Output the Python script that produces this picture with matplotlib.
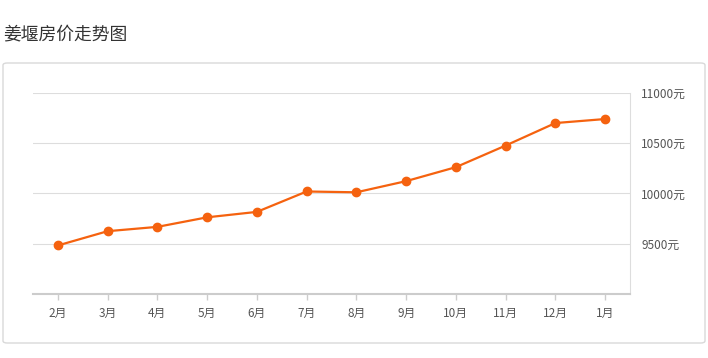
import matplotlib
matplotlib.use("Agg")
import matplotlib.pyplot as plt
from matplotlib.patches import FancyBboxPatch

plt.rcParams['font.family'] = ['Noto Sans CJK SC', 'DejaVu Sans']

title = "姜堰房价走势图"
months = ["2月", "3月", "4月", "5月", "6月", "7月", "8月", "9月", "10月", "11月", "12月", "1月"]
prices = [9483, 9625, 9668, 9763, 9817, 10020, 10012, 10123, 10262, 10477, 10701, 10741]
yticks = [9500, 10000, 10500, 11000]
ytick_labels = ["9500元", "10000元", "10500元", "11000元"]

W, H = 708, 358
fig = plt.figure(figsize=(W / 100, H / 100), dpi=100)
fig.patch.set_facecolor("white")

# card border
card = FancyBboxPatch((3 / W, 1 - 343 / H), (705 - 3) / W, (343 - 63) / H,
                      boxstyle="round,pad=0,rounding_size=0.006",
                      transform=fig.transFigure, facecolor="white",
                      edgecolor="#d9d9d9", linewidth=1.0, zorder=-1)
fig.patches.append(card)

fig.text(3 / W, 1 - 34 / H, title, fontsize=12.8, color="#333333", va="center", ha="left")

ax = fig.add_axes([33 / W, 1 - 294 / H, (630 - 33) / W, (294 - 93) / H])
ax.set_zorder(2)
ax.patch.set_alpha(0)
x = list(range(len(months)))
ax.plot(x, prices, color="#f5620f", linewidth=1.6, marker="o", markersize=6,
        markerfacecolor="#f5620f", markeredgecolor="#f5620f", zorder=3)

ax.set_xlim(-0.5, len(months) - 0.5)
ax.set_ylim(9000, 11000)
ax.set_xticks(x)
ax.set_xticklabels(months, fontsize=8.5, color="#555555")
ax.yaxis.tick_right()
ax.set_yticks(yticks)
ax.set_yticklabels(ytick_labels, fontsize=8.5, color="#555555")
ax.tick_params(axis="y", length=0, pad=8)
ax.tick_params(axis="x", length=4, color="#cccccc", width=1, pad=5)
for t in ax.get_yticklabels():
    t.set_horizontalalignment("left")

ax.grid(axis="y", color="#dddddd", linewidth=0.8)
ax.set_axisbelow(True)
for s in ["top", "left"]:
    ax.spines[s].set_visible(False)
ax.spines["right"].set_color("#dddddd")
ax.spines["right"].set_linewidth(0.8)
ax.spines["bottom"].set_color("#cccccc")
ax.spines["bottom"].set_linewidth(1.5)

fig.savefig("out.png", dpi=100, facecolor="white")
